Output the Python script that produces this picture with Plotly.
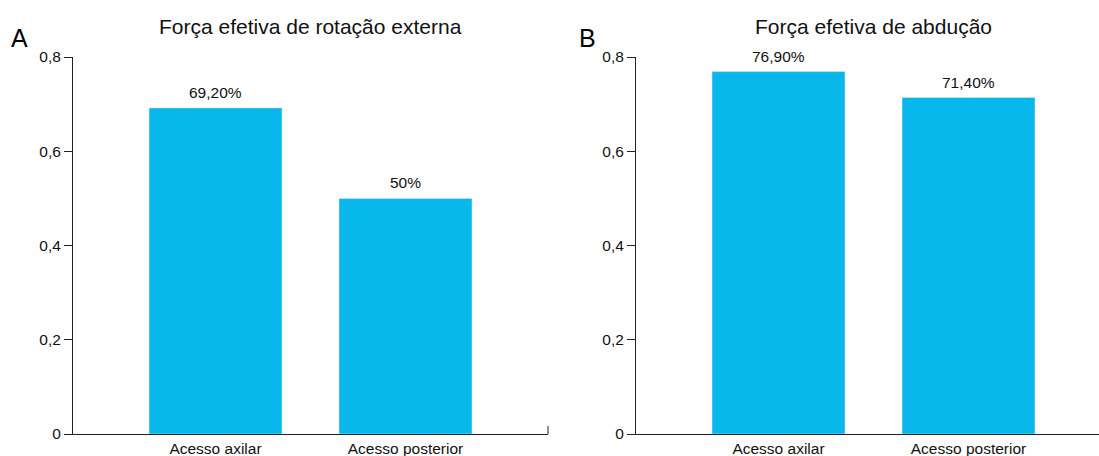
import plotly.graph_objects as go

categories = ["Acesso axilar", "Acesso posterior"]
rot_ext_values = [0.692, 0.50]
rot_ext_labels = ["69,20%", "50%"]
abd_values = [0.769, 0.714]
abd_labels = ["76,90%", "71,40%"]
y_ticks = [0, 0.2, 0.4, 0.6, 0.8]
y_tick_text = ["0", "0,2", "0,4", "0,6", "0,8"]
titles = ["Força efetiva de rotação externa", "Força efetiva de abdução"]
panel_letters = ["A", "B"]

W, H = 1099, 456
L, R, T, B = 73, 0, 57, 22
PW, PH = W - L - R, H - T - B
BAR = "#08B7EC"
AX = "#222222"
TXT = "#111111"
FONT = "Liberation Sans, Arial, Helvetica, sans-serif"
FS = 15.5


def px(x):
    return (x - L) / PW


def py(y):
    return (H - B - y) / PH


fig = go.Figure()
fig.add_trace(go.Bar(x=[0, 1], y=rot_ext_values, marker_color=BAR, width=0.7,
                     xaxis="x", yaxis="y", hoverinfo="skip", showlegend=False))
fig.add_trace(go.Bar(x=[0, 1], y=abd_values, marker_color=BAR, width=0.7,
                     xaxis="x2", yaxis="y2", hoverinfo="skip", showlegend=False))

axis_common = dict(showgrid=False, zeroline=False, showline=True, linecolor=AX, linewidth=1,
                   automargin=False, tickfont=dict(size=FS, color=TXT))
xa_dom = [px(73), px(548)]
xb_dom = [px(636), 1.0]
y_dom = [0, 1]

fig.update_layout(
    width=W, height=H,
    margin=dict(l=L, r=R, t=T, b=B),
    plot_bgcolor="white", paper_bgcolor="white",
    font=dict(family=FONT, size=FS, color=TXT),
    xaxis=dict(domain=xa_dom, range=[-0.75, 1.75], tickvals=[0, 1], ticktext=categories,
               ticks="", anchor="y", **axis_common),
    yaxis=dict(domain=y_dom, range=[0, 0.8], tickvals=y_ticks, ticktext=y_tick_text,
               ticks="outside", ticklen=8, tickcolor=AX, anchor="x", **axis_common),
    xaxis2=dict(domain=xb_dom, range=[-0.75, 1.75 - (1111 - 1099) / 190], tickvals=[0, 1],
                ticktext=categories, ticks="", anchor="y2", **axis_common),
    yaxis2=dict(domain=y_dom, range=[0, 0.8], tickvals=y_ticks, ticktext=y_tick_text,
                ticks="outside", ticklen=8, tickcolor=AX, anchor="x2", **axis_common),
)

annotations = []
for xr, yr, vals, labs in [("x", "y", rot_ext_values, rot_ext_labels),
                           ("x2", "y2", abd_values, abd_labels)]:
    for i, (v, lab) in enumerate(zip(vals, labs)):
        annotations.append(dict(x=i, y=v, xref=xr, yref=yr, text=lab, showarrow=False,
                                xanchor="center", yanchor="bottom", yshift=5,
                                font=dict(size=FS, color=TXT)))

# titles
annotations.append(dict(x=px(310.5), xref="paper", y=py(27), yref="paper", text=titles[0],
                        xanchor="center", yanchor="middle",
                        showarrow=False, font=dict(size=21, color=TXT)))
annotations.append(dict(x=px(873.5), xref="paper", y=py(27), yref="paper", text=titles[1],
                        xanchor="center", yanchor="middle",
                        showarrow=False, font=dict(size=21, color=TXT)))
# panel letters
annotations.append(dict(x=px(19), y=py(38), xref="paper", yref="paper", text=panel_letters[0],
                        xanchor="center", yanchor="middle",
                        showarrow=False, font=dict(size=25, color="#000000")))
annotations.append(dict(x=px(587), y=py(38), xref="paper", yref="paper", text=panel_letters[1],
                        xanchor="center", yanchor="middle",
                        showarrow=False, font=dict(size=25, color="#000000")))
fig.update_layout(annotations=annotations)

# small end tick on right of panel A x-axis
fig.add_shape(type="line", xref="x domain", yref="y domain", x0=1, x1=1, y0=0, y1=8 / PH,
              line=dict(color=AX, width=1))

fig.write_html("out.html", config={"displayModeBar": False},
               post_script="document.body.style.margin='0';document.body.style.overflow='hidden';")
